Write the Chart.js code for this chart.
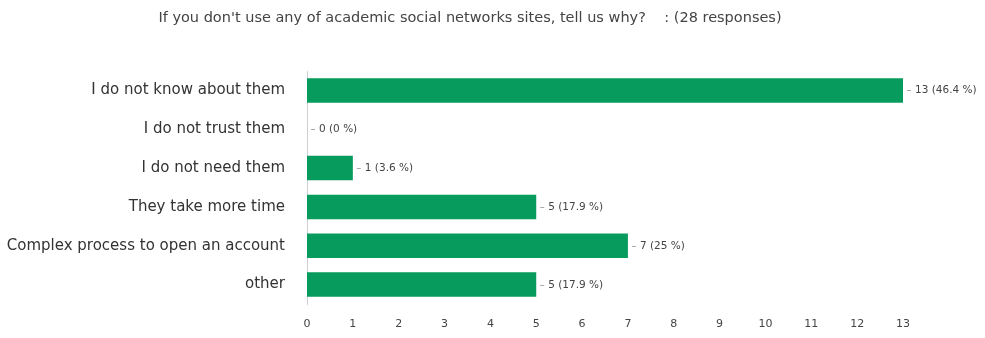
<!DOCTYPE html>
<html>
<head>
<meta charset="utf-8">
<script src="https://cdn.jsdelivr.net/npm/chart.js@4"></script>
<style>
  html, body { margin: 0; padding: 0; background: #fff; }
  #wrap { width: 985px; height: 338px; position: relative; }
</style>
</head>
<body>
<div id="wrap"><canvas id="reasonsChart"></canvas></div>
<script>
// --- Data ---
const titleText = "If you don't use any of academic social networks sites, tell us why?    : (28 responses)";
const categories = [
    'I do not know about them',
    'I do not trust them',
    'I do not need them',
    'They take more time',
    'Complex process to open an account',
    'other'
];
const counts = [13, 0, 1, 5, 7, 5];
const percents = ['46.4', '0', '3.6', '17.9', '25', '17.9'];
const xTicks = [0, 1, 2, 3, 4, 5, 6, 7, 8, 9, 10, 11, 12, 13];

const fontFamily = "'DejaVu Sans', sans-serif";

// title drawn at fixed spot
const titlePlugin = {
    id: 'titleText',
    afterDraw(chart) {
        const ctx = chart.ctx;
        ctx.save();
        ctx.font = '14.5px ' + fontFamily;
        ctx.fillStyle = '#444';
        ctx.textAlign = 'center';
        ctx.textBaseline = 'middle';
        ctx.fillText(titleText, 470, 18);
        ctx.restore();
    }
};

// value labels with the little dash in front
const valueLabels = {
    id: 'valueLabels',
    afterDatasetsDraw(chart) {
        const ctx = chart.ctx;
        const meta = chart.getDatasetMeta(0);
        ctx.save();
        ctx.font = '10.5px ' + fontFamily;
        ctx.fillStyle = '#444';
        ctx.strokeStyle = '#aaa';
        ctx.lineWidth = 1;
        ctx.textBaseline = 'middle';
        meta.data.forEach((bar, i) => {
            const x = bar.x;
            const y = Math.round(bar.y) + 0.5;
            ctx.beginPath();
            ctx.moveTo(x + 4, y);
            ctx.lineTo(x + 8, y);
            ctx.stroke();
            ctx.fillText(counts[i] + ' (' + percents[i] + ' %)', x + 12, y);
        });
        ctx.restore();
    }
};

new Chart(document.getElementById('reasonsChart').getContext('2d'), {
    type: 'bar',
    data: {
        labels: categories,
        datasets: [{
            data: counts,
            backgroundColor: '#079b5d',
            borderColor: '#079b5d',
            borderWidth: 0,
            barPercentage: 0.63,
            categoryPercentage: 1.0
        }]
    },
    options: {
        indexAxis: 'y',
        responsive: true,
        maintainAspectRatio: false,
        animation: false,
        layout: { padding: { top: 71, right: 82, bottom: 6, left: 0 } },
        plugins: {
            legend: { display: false },
            tooltip: { enabled: false }
        },
        scales: {
            x: {
                min: 0,
                max: 13,
                afterBuildTicks: axis => { axis.ticks = xTicks.map(v => ({ value: v })); },
                afterFit: axis => { axis.height = 28; },
                grid: { display: false, drawTicks: false },
                border: { display: false },
                ticks: {
                    padding: 14,
                    color: '#444',
                    font: { family: fontFamily, size: 11 }
                }
            },
            y: {
                afterFit: axis => { axis.width = 307; },
                grid: { display: false, drawTicks: false },
                border: { display: true, color: '#cfcfcf', width: 1 },
                ticks: {
                    padding: 22,
                    color: '#333',
                    font: { family: fontFamily, size: 15 }
                }
            }
        }
    },
    plugins: [titlePlugin, valueLabels]
});
</script>
</body>
</html>
